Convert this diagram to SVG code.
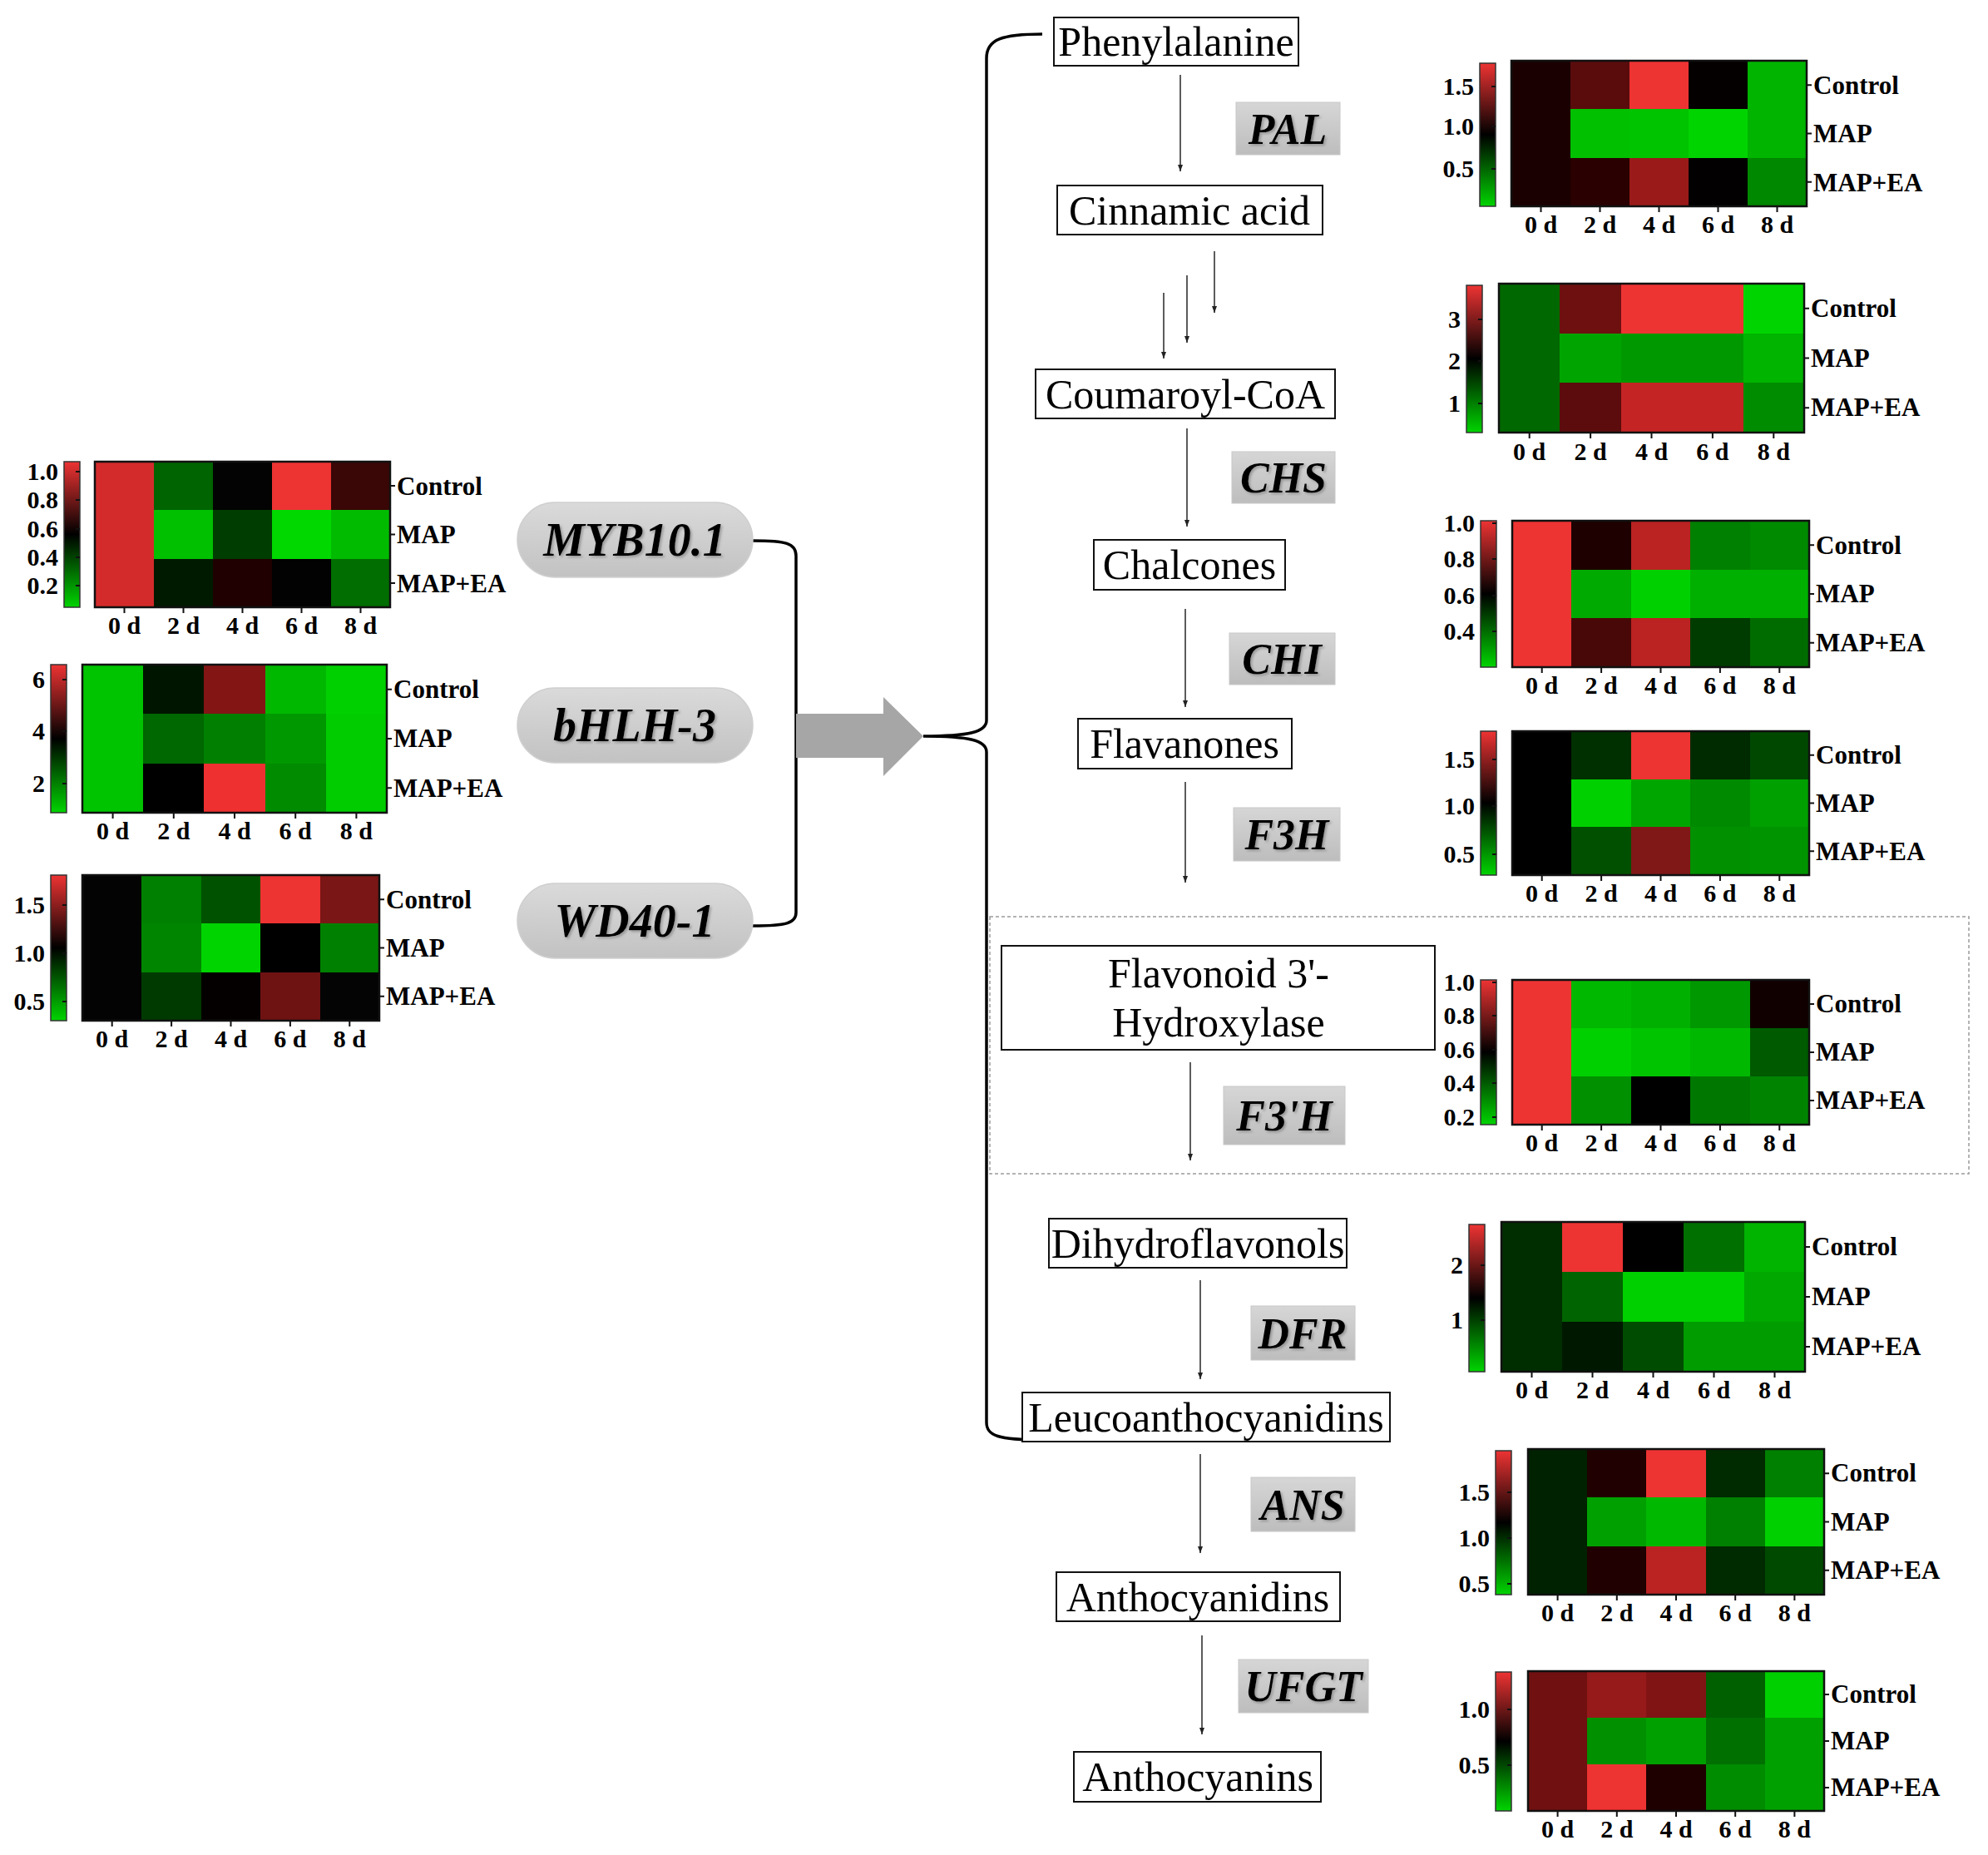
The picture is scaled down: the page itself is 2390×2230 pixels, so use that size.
<svg xmlns="http://www.w3.org/2000/svg" width="2390" height="2230" viewBox="0 0 2390 2230">
<defs>
<linearGradient id="cbg" x1="0" y1="0" x2="0" y2="1">
<stop offset="0" stop-color="#ee3333"/><stop offset="0.5" stop-color="#000000"/><stop offset="1" stop-color="#00d400"/>
</linearGradient>
<linearGradient id="pillg" x1="0" y1="0" x2="0" y2="1">
<stop offset="0" stop-color="#dadada"/><stop offset="1" stop-color="#c2c2c2"/>
</linearGradient>
<linearGradient id="enzg" x1="0" y1="0" x2="0" y2="1">
<stop offset="0" stop-color="#d6d6d6"/><stop offset="1" stop-color="#bdbdbd"/>
</linearGradient>
<filter id="sh" x="-10%" y="-20%" width="130%" height="150%">
<feDropShadow dx="2" dy="2" stdDeviation="1.5" flood-color="#777" flood-opacity="0.6"/>
</filter>
<marker id="ah" markerWidth="10" markerHeight="10" refX="8" refY="5" orient="auto" markerUnits="userSpaceOnUse">
<path d="M0,2 L8,5 L0,8 Z" fill="#222"/>
</marker>
</defs>
<style>
.lab{font-family:"Liberation Serif","Times New Roman",serif;font-weight:bold;font-size:30px;fill:#000}
.tl{text-anchor:end}
.cl{text-anchor:middle}
.rl{font-size:31px}
.cmp{font-family:"Liberation Serif","Times New Roman",serif;font-size:50px;text-anchor:middle;fill:#000}
.enz{font-family:"Liberation Serif","Times New Roman",serif;font-weight:bold;font-style:italic;font-size:52px;text-anchor:middle;fill:#000}
.gene{font-family:"Liberation Serif","Times New Roman",serif;font-weight:bold;font-style:italic;font-size:56px;text-anchor:middle;fill:#000}
.box{fill:#fff;stroke:#111;stroke-width:2}
.ebox{fill:url(#enzg);stroke:#c8c8c8;stroke-width:1}
.pill{fill:url(#pillg);stroke:#cfcfcf;stroke-width:1.5}
.cb{fill:url(#cbg);stroke:#333;stroke-width:1.5}
.fr{fill:none;stroke:#111;stroke-width:2.5}
.tk{fill:none;stroke:#111;stroke-width:2}
.br{fill:none;stroke:#000;stroke-width:3.5}
.pa{fill:none;stroke:#333;stroke-width:1.6;marker-end:url(#ah)}
</style>

<!-- ===== Left heatmaps ===== -->
<g id="hm-myb10">
<rect class="cb" x="77" y="555" width="19" height="175"/>
<g transform="translate(114,555) scale(71,58.333)" shape-rendering="crispEdges">
<rect x="0" y="0" width="1.02" height="3" fill="#d32b2b"/>
<rect x="1" y="0" width="1.02" height="1.02" fill="#006400"/><rect x="2" y="0" width="1.02" height="1.02" fill="#030303"/><rect x="3" y="0" width="1.02" height="1.02" fill="#ee3333"/><rect x="4" y="0" width="1" height="1.02" fill="#3a0606"/>
<rect x="1" y="1" width="1.02" height="1.02" fill="#00c000"/><rect x="2" y="1" width="1.02" height="1.02" fill="#003d00"/><rect x="3" y="1" width="1.02" height="1.02" fill="#00d800"/><rect x="4" y="1" width="1" height="1.02" fill="#00bb00"/>
<rect x="1" y="2" width="1.02" height="1" fill="#001a00"/><rect x="2" y="2" width="1.02" height="1" fill="#200000"/><rect x="3" y="2" width="1.02" height="1" fill="#020202"/><rect x="4" y="2" width="1" height="1" fill="#006e00"/>
</g>
<rect class="fr" x="114" y="555" width="355" height="175"/>
<path class="tk" d="M149.5,730v7M220.5,730v7M291.5,730v7M362.5,730v7M433.5,730v7M469,584h6M469,642.5h6M469,701h6M91,567h5M91,601h5M91,636h5M91,670h5M91,704h5"/>
<text class="lab tl" x="70" y="577">1.0</text><text class="lab tl" x="70" y="611">0.8</text><text class="lab tl" x="70" y="646">0.6</text><text class="lab tl" x="70" y="680">0.4</text><text class="lab tl" x="70" y="714">0.2</text>
<text class="lab rl" x="477" y="595">Control</text><text class="lab rl" x="477" y="653">MAP</text><text class="lab rl" x="477" y="712">MAP+EA</text>
<text class="lab cl" x="149.5" y="762">0 d</text><text class="lab cl" x="220.5" y="762">2 d</text><text class="lab cl" x="291.5" y="762">4 d</text><text class="lab cl" x="362.5" y="762">6 d</text><text class="lab cl" x="433.5" y="762">8 d</text>
</g>

<g id="hm-bhlh3">
<rect class="cb" x="61" y="799" width="19" height="178"/>
<g transform="translate(99,799) scale(73.2,59.333)" shape-rendering="crispEdges">
<rect x="0" y="0" width="1.02" height="3" fill="#00c400"/>
<rect x="1" y="0" width="1.02" height="1.02" fill="#001500"/><rect x="2" y="0" width="1.02" height="1.02" fill="#841515"/><rect x="3" y="0" width="1.02" height="1.02" fill="#00b800"/><rect x="4" y="0" width="1" height="1.02" fill="#00d000"/>
<rect x="1" y="1" width="1.02" height="1.02" fill="#006800"/><rect x="2" y="1" width="1.02" height="1.02" fill="#007f00"/><rect x="3" y="1" width="1.02" height="1.02" fill="#009800"/><rect x="4" y="1" width="1" height="1.02" fill="#00cc00"/>
<rect x="1" y="2" width="1.02" height="1" fill="#000000"/><rect x="2" y="2" width="1.02" height="1" fill="#ee3030"/><rect x="3" y="2" width="1.02" height="1" fill="#008b00"/><rect x="4" y="2" width="1" height="1" fill="#00cc00"/>
</g>
<rect class="fr" x="99" y="799" width="366" height="178"/>
<path class="tk" d="M135.6,977v7M208.8,977v7M282,977v7M355.2,977v7M428.4,977v7M465,828.7h6M465,888h6M465,947.3h6M75,817h5M75,879h5M75,942h5"/>
<text class="lab tl" x="54" y="827">6</text><text class="lab tl" x="54" y="889">4</text><text class="lab tl" x="54" y="952">2</text>
<text class="lab rl" x="473" y="839">Control</text><text class="lab rl" x="473" y="898">MAP</text><text class="lab rl" x="473" y="958">MAP+EA</text>
<text class="lab cl" x="135.6" y="1009">0 d</text><text class="lab cl" x="208.8" y="1009">2 d</text><text class="lab cl" x="282" y="1009">4 d</text><text class="lab cl" x="355.2" y="1009">6 d</text><text class="lab cl" x="428.4" y="1009">8 d</text>
</g>

<g id="hm-wd40">
<rect class="cb" x="61" y="1052" width="19" height="175"/>
<g transform="translate(99,1052) scale(71.4,58.333)" shape-rendering="crispEdges">
<rect x="0" y="0" width="1.02" height="3" fill="#030303"/>
<rect x="1" y="0" width="1.02" height="1.02" fill="#008000"/><rect x="2" y="0" width="1.02" height="1.02" fill="#005200"/><rect x="3" y="0" width="1.02" height="1.02" fill="#ee3333"/><rect x="4" y="0" width="1" height="1.02" fill="#7a1616"/>
<rect x="1" y="1" width="1.02" height="1.02" fill="#008500"/><rect x="2" y="1" width="1.02" height="1.02" fill="#00d400"/><rect x="3" y="1" width="1.02" height="1.02" fill="#000000"/><rect x="4" y="1" width="1" height="1.02" fill="#008000"/>
<rect x="1" y="2" width="1.02" height="1" fill="#003a00"/><rect x="2" y="2" width="1.02" height="1" fill="#050000"/><rect x="3" y="2" width="1.02" height="1" fill="#6e1212"/><rect x="4" y="2" width="1" height="1" fill="#040404"/>
</g>
<rect class="fr" x="99" y="1052" width="357" height="175"/>
<path class="tk" d="M134.7,1227v7M206.1,1227v7M277.5,1227v7M348.9,1227v7M420.3,1227v7M456,1081.2h6M456,1139.5h6M456,1197.8h6M75,1088h5M75,1146h5M75,1204h5"/>
<text class="lab tl" x="54" y="1098">1.5</text><text class="lab tl" x="54" y="1156">1.0</text><text class="lab tl" x="54" y="1214">0.5</text>
<text class="lab rl" x="464" y="1092">Control</text><text class="lab rl" x="464" y="1150">MAP</text><text class="lab rl" x="464" y="1208">MAP+EA</text>
<text class="lab cl" x="134.7" y="1259">0 d</text><text class="lab cl" x="206.1" y="1259">2 d</text><text class="lab cl" x="277.5" y="1259">4 d</text><text class="lab cl" x="348.9" y="1259">6 d</text><text class="lab cl" x="420.3" y="1259">8 d</text>
</g>

<!-- ===== Connectors ===== -->
<g id="connectors">
<path class="br" d="M905,650 C945,650 957,653 957,668 L957,1097 C957,1110 945,1113 905,1113"/>
<polygon points="957,858 1062,858 1062,838 1110,885 1062,933 1062,911 957,911" fill="#a6a6a6"/>
<path class="br" d="M1253,41 C1205,41 1186,47 1186,70 L1186,866 C1186,880 1165,885 1110,885 C1165,885 1186,890 1186,904 L1186,1710 C1186,1726 1200,1731 1253,1731"/>
<path class="pa" d="M1419,90V206"/>
<path class="pa" d="M1460,302V376"/>
<path class="pa" d="M1427,331V412"/>
<path class="pa" d="M1399,352V431"/>
<path class="pa" d="M1427,515V633"/>
<path class="pa" d="M1425,732V850"/>
<path class="pa" d="M1425,940V1061"/>
<path class="pa" d="M1431,1277V1395"/>
<path class="pa" d="M1443,1539V1658"/>
<path class="pa" d="M1443,1748V1867"/>
<path class="pa" d="M1445,1966V2085"/>
<rect x="1190" y="1102" width="1177" height="309" fill="none" stroke="#9a9a9a" stroke-width="1.5" stroke-dasharray="4 3"/>
</g>

<!-- ===== Transcription factor pills ===== -->
<g id="tf-myb"><rect class="pill" x="622" y="604" width="283" height="90" rx="45"/><text class="gene" x="763" y="668" filter="url(#sh)">MYB10.1</text></g>
<g id="tf-bhlh"><rect class="pill" x="622" y="827" width="283" height="90" rx="45"/><text class="gene" x="763" y="891" filter="url(#sh)">bHLH-3</text></g>
<g id="tf-wd40"><rect class="pill" x="622" y="1062" width="283" height="90" rx="45"/><text class="gene" x="763" y="1126" filter="url(#sh)">WD40-1</text></g>

<!-- ===== Pathway compounds ===== -->
<g id="c-phe"><rect class="box" x="1267" y="21" width="294" height="58"/><text class="cmp" x="1414" y="67">Phenylalanine</text></g>
<g id="c-cin"><rect class="box" x="1271" y="223" width="319" height="59"/><text class="cmp" x="1430" y="270">Cinnamic acid</text></g>
<g id="c-cou"><rect class="box" x="1245" y="444" width="360" height="59"/><text class="cmp" x="1425" y="491">Coumaroyl-CoA</text></g>
<g id="c-cha"><rect class="box" x="1315" y="649" width="230" height="60"/><text class="cmp" x="1430" y="696">Chalcones</text></g>
<g id="c-fla"><rect class="box" x="1296" y="864" width="257" height="60"/><text class="cmp" x="1424" y="911">Flavanones</text></g>
<g id="c-f3h"><rect class="box" x="1204" y="1137" width="521" height="125"/><text class="cmp" x="1465" y="1187">Flavonoid 3'-</text><text class="cmp" x="1465" y="1246">Hydroxylase</text></g>
<g id="c-dih"><rect class="box" x="1261" y="1465" width="358" height="59"/><text class="cmp" x="1440" y="1512">Dihydroflavonols</text></g>
<g id="c-leu"><rect class="box" x="1229" y="1674" width="442" height="59"/><text class="cmp" x="1450" y="1721">Leucoanthocyanidins</text></g>
<g id="c-acd"><rect class="box" x="1270" y="1890" width="341" height="59"/><text class="cmp" x="1440" y="1937">Anthocyanidins</text></g>
<g id="c-acn"><rect class="box" x="1291" y="2106" width="297" height="60"/><text class="cmp" x="1440" y="2153">Anthocyanins</text></g>

<!-- ===== Enzymes ===== -->
<g id="e-pal"><rect class="ebox" x="1486" y="123" width="125" height="63"/><text class="enz" x="1548" y="173" filter="url(#sh)">PAL</text></g>
<g id="e-chs"><rect class="ebox" x="1481" y="543" width="124" height="62"/><text class="enz" x="1543" y="592" filter="url(#sh)">CHS</text></g>
<g id="e-chi"><rect class="ebox" x="1478" y="761" width="127" height="62"/><text class="enz" x="1541" y="810" filter="url(#sh)">CHI</text></g>
<g id="e-f3h"><rect class="ebox" x="1483" y="971" width="128" height="64"/><text class="enz" x="1547" y="1021" filter="url(#sh)">F3H</text></g>
<g id="e-f3ph"><rect class="ebox" x="1471" y="1306" width="146" height="70"/><text class="enz" x="1544" y="1359" filter="url(#sh)">F3'H</text></g>
<g id="e-dfr"><rect class="ebox" x="1504" y="1570" width="125" height="65"/><text class="enz" x="1566" y="1621" filter="url(#sh)">DFR</text></g>
<g id="e-ans"><rect class="ebox" x="1504" y="1776" width="125" height="65"/><text class="enz" x="1566" y="1827" filter="url(#sh)">ANS</text></g>
<g id="e-ufgt"><rect class="ebox" x="1489" y="1995" width="156" height="64"/><text class="enz" x="1567" y="2045" filter="url(#sh)">UFGT</text></g>

<!-- ===== Right heatmaps ===== -->
<g id="hm-pal">
<rect class="cb" x="1779" y="76" width="19" height="172"/>
<g transform="translate(1817,73) scale(71,58.333)" shape-rendering="crispEdges">
<rect x="0" y="0" width="1.02" height="3" fill="#1a0000"/>
<rect x="1" y="0" width="1.02" height="1.02" fill="#5a0c0c"/><rect x="2" y="0" width="1.02" height="1.02" fill="#ee3333"/><rect x="3" y="0" width="1.02" height="1.02" fill="#050000"/><rect x="4" y="0" width="1" height="1.02" fill="#00b400"/>
<rect x="1" y="1" width="1.02" height="1.02" fill="#00c000"/><rect x="2" y="1" width="1.02" height="1.02" fill="#00c400"/><rect x="3" y="1" width="1.02" height="1.02" fill="#00d400"/><rect x="4" y="1" width="1" height="1.02" fill="#00b400"/>
<rect x="1" y="2" width="1.02" height="1" fill="#2a0000"/><rect x="2" y="2" width="1.02" height="1" fill="#9a1a1a"/><rect x="3" y="2" width="1.02" height="1" fill="#020000"/><rect x="4" y="2" width="1" height="1" fill="#008800"/>
</g>
<rect class="fr" x="1817" y="73" width="355" height="175"/>
<path class="tk" d="M1852.5,248v7M1923.5,248v7M1994.5,248v7M2065.5,248v7M2136.5,248v7M2172,102.2h6M2172,160.5h6M2172,218.8h6M1793,104h5M1793,152h5M1793,203h5"/>
<text class="lab tl" x="1772" y="114">1.5</text><text class="lab tl" x="1772" y="162">1.0</text><text class="lab tl" x="1772" y="213">0.5</text>
<text class="lab rl" x="2180" y="113">Control</text><text class="lab rl" x="2180" y="171">MAP</text><text class="lab rl" x="2180" y="230">MAP+EA</text>
<text class="lab cl" x="1852.5" y="280">0 d</text><text class="lab cl" x="1923.5" y="280">2 d</text><text class="lab cl" x="1994.5" y="280">4 d</text><text class="lab cl" x="2065.5" y="280">6 d</text><text class="lab cl" x="2136.5" y="280">8 d</text>
</g>

<g id="hm-chs">
<rect class="cb" x="1763" y="343" width="19" height="177"/>
<g transform="translate(1802,341) scale(73.4,59.667)" shape-rendering="crispEdges">
<rect x="0" y="0" width="1.02" height="3" fill="#006800"/>
<rect x="1" y="0" width="1.02" height="1.02" fill="#6e1010"/><rect x="2" y="0" width="2.02" height="1.02" fill="#ee3333"/><rect x="4" y="0" width="1" height="1.02" fill="#00d400"/>
<rect x="1" y="1" width="1.02" height="1.02" fill="#00a400"/><rect x="2" y="1" width="2.02" height="1.02" fill="#009800"/><rect x="4" y="1" width="1" height="1.02" fill="#00b400"/>
<rect x="1" y="2" width="1.02" height="1" fill="#5c0c0c"/><rect x="2" y="2" width="2.02" height="1" fill="#c42424"/><rect x="4" y="2" width="1" height="1" fill="#008c00"/>
</g>
<rect class="fr" x="1802" y="341" width="367" height="179"/>
<path class="tk" d="M1838.7,520v7M1912.1,520v7M1985.5,520v7M2058.9,520v7M2132.3,520v7M2169,370.8h6M2169,430.5h6M2169,490.2h6M1777,384h5M1777,434h5M1777,485h5"/>
<text class="lab tl" x="1756" y="394">3</text><text class="lab tl" x="1756" y="444">2</text><text class="lab tl" x="1756" y="495">1</text>
<text class="lab rl" x="2177" y="381">Control</text><text class="lab rl" x="2177" y="441">MAP</text><text class="lab rl" x="2177" y="500">MAP+EA</text>
<text class="lab cl" x="1838.7" y="553">0 d</text><text class="lab cl" x="1912.1" y="553">2 d</text><text class="lab cl" x="1985.5" y="553">4 d</text><text class="lab cl" x="2058.9" y="553">6 d</text><text class="lab cl" x="2132.3" y="553">8 d</text>
</g>

<g id="hm-chi">
<rect class="cb" x="1780" y="626" width="19" height="176"/>
<g transform="translate(1818,626) scale(71.4,58.667)" shape-rendering="crispEdges">
<rect x="0" y="0" width="1.02" height="3" fill="#ee3333"/>
<rect x="1" y="0" width="1.02" height="1.02" fill="#1e0000"/><rect x="2" y="0" width="1.02" height="1.02" fill="#bb2222"/><rect x="3" y="0" width="1.02" height="1.02" fill="#008000"/><rect x="4" y="0" width="1" height="1.02" fill="#008a00"/>
<rect x="1" y="1" width="1.02" height="1.02" fill="#00aa00"/><rect x="2" y="1" width="1.02" height="1.02" fill="#00d000"/><rect x="3" y="1" width="1.02" height="1.02" fill="#00b000"/><rect x="4" y="1" width="1" height="1.02" fill="#00b000"/>
<rect x="1" y="2" width="1.02" height="1" fill="#480808"/><rect x="2" y="2" width="1.02" height="1" fill="#bb2222"/><rect x="3" y="2" width="1.02" height="1" fill="#003c00"/><rect x="4" y="2" width="1" height="1" fill="#006c00"/>
</g>
<rect class="fr" x="1818" y="626" width="357" height="176"/>
<path class="tk" d="M1853.7,802v7M1925.1,802v7M1996.5,802v7M2067.9,802v7M2139.3,802v7M2175,655.3h6M2175,714h6M2175,772.7h6M1794,629h5M1794,672h5M1794,716h5M1794,759h5"/>
<text class="lab tl" x="1773" y="639">1.0</text><text class="lab tl" x="1773" y="682">0.8</text><text class="lab tl" x="1773" y="726">0.6</text><text class="lab tl" x="1773" y="769">0.4</text>
<text class="lab rl" x="2183" y="666">Control</text><text class="lab rl" x="2183" y="724">MAP</text><text class="lab rl" x="2183" y="783">MAP+EA</text>
<text class="lab cl" x="1853.7" y="834">0 d</text><text class="lab cl" x="1925.1" y="834">2 d</text><text class="lab cl" x="1996.5" y="834">4 d</text><text class="lab cl" x="2067.9" y="834">6 d</text><text class="lab cl" x="2139.3" y="834">8 d</text>
</g>

<g id="hm-f3h">
<rect class="cb" x="1780" y="879" width="19" height="173"/>
<g transform="translate(1818,879) scale(71.4,57.667)" shape-rendering="crispEdges">
<rect x="0" y="0" width="1.02" height="3" fill="#000000"/>
<rect x="1" y="0" width="1.02" height="1.02" fill="#003000"/><rect x="2" y="0" width="1.02" height="1.02" fill="#ee3333"/><rect x="3" y="0" width="1.02" height="1.02" fill="#002a00"/><rect x="4" y="0" width="1" height="1.02" fill="#004800"/>
<rect x="1" y="1" width="1.02" height="1.02" fill="#00d000"/><rect x="2" y="1" width="1.02" height="1.02" fill="#00a600"/><rect x="3" y="1" width="1.02" height="1.02" fill="#008a00"/><rect x="4" y="1" width="1" height="1.02" fill="#00a000"/>
<rect x="1" y="2" width="1.02" height="1" fill="#005000"/><rect x="2" y="2" width="1.02" height="1" fill="#801818"/><rect x="3" y="2" width="1.02" height="1" fill="#009000"/><rect x="4" y="2" width="1" height="1" fill="#009400"/>
</g>
<rect class="fr" x="1818" y="879" width="357" height="173"/>
<path class="tk" d="M1853.7,1052v7M1925.1,1052v7M1996.5,1052v7M2067.9,1052v7M2139.3,1052v7M2175,907.8h6M2175,965.5h6M2175,1023.2h6M1794,913h5M1794,969h5M1794,1027h5"/>
<text class="lab tl" x="1773" y="923">1.5</text><text class="lab tl" x="1773" y="979">1.0</text><text class="lab tl" x="1773" y="1037">0.5</text>
<text class="lab rl" x="2183" y="918">Control</text><text class="lab rl" x="2183" y="976">MAP</text><text class="lab rl" x="2183" y="1034">MAP+EA</text>
<text class="lab cl" x="1853.7" y="1084">0 d</text><text class="lab cl" x="1925.1" y="1084">2 d</text><text class="lab cl" x="1996.5" y="1084">4 d</text><text class="lab cl" x="2067.9" y="1084">6 d</text><text class="lab cl" x="2139.3" y="1084">8 d</text>
</g>

<g id="hm-f3ph">
<rect class="cb" x="1780" y="1178" width="19" height="174"/>
<g transform="translate(1818,1178) scale(71.4,58)" shape-rendering="crispEdges">
<rect x="0" y="0" width="1.02" height="3" fill="#ee3333"/>
<rect x="1" y="0" width="1.02" height="1.02" fill="#00b800"/><rect x="2" y="0" width="1.02" height="1.02" fill="#00b000"/><rect x="3" y="0" width="1.02" height="1.02" fill="#009800"/><rect x="4" y="0" width="1" height="1.02" fill="#100000"/>
<rect x="1" y="1" width="1.02" height="1.02" fill="#00d000"/><rect x="2" y="1" width="1.02" height="1.02" fill="#00c400"/><rect x="3" y="1" width="1.02" height="1.02" fill="#00b800"/><rect x="4" y="1" width="1" height="1.02" fill="#005a00"/>
<rect x="1" y="2" width="1.02" height="1" fill="#009000"/><rect x="2" y="2" width="1.02" height="1" fill="#000000"/><rect x="3" y="2" width="1.02" height="1" fill="#007800"/><rect x="4" y="2" width="1" height="1" fill="#008400"/>
</g>
<rect class="fr" x="1818" y="1178" width="357" height="174"/>
<path class="tk" d="M1853.7,1352v7M1925.1,1352v7M1996.5,1352v7M2067.9,1352v7M2139.3,1352v7M2175,1207h6M2175,1265h6M2175,1323h6M1794,1181h5M1794,1221h5M1794,1262h5M1794,1302h5M1794,1343h5"/>
<text class="lab tl" x="1773" y="1191">1.0</text><text class="lab tl" x="1773" y="1231">0.8</text><text class="lab tl" x="1773" y="1272">0.6</text><text class="lab tl" x="1773" y="1312">0.4</text><text class="lab tl" x="1773" y="1353">0.2</text>
<text class="lab rl" x="2183" y="1217">Control</text><text class="lab rl" x="2183" y="1275">MAP</text><text class="lab rl" x="2183" y="1333">MAP+EA</text>
<text class="lab cl" x="1853.7" y="1384">0 d</text><text class="lab cl" x="1925.1" y="1384">2 d</text><text class="lab cl" x="1996.5" y="1384">4 d</text><text class="lab cl" x="2067.9" y="1384">6 d</text><text class="lab cl" x="2139.3" y="1384">8 d</text>
</g>

<g id="hm-dfr">
<rect class="cb" x="1766" y="1472" width="19" height="177"/>
<g transform="translate(1805,1469) scale(73,60)" shape-rendering="crispEdges">
<rect x="0" y="0" width="1.02" height="3" fill="#002e00"/>
<rect x="1" y="0" width="1.02" height="1.02" fill="#ee3333"/><rect x="2" y="0" width="1.02" height="1.02" fill="#000000"/><rect x="3" y="0" width="1.02" height="1.02" fill="#007000"/><rect x="4" y="0" width="1" height="1.02" fill="#00b400"/>
<rect x="1" y="1" width="1.02" height="1.02" fill="#006400"/><rect x="2" y="1" width="1.02" height="1.02" fill="#00d000"/><rect x="3" y="1" width="1.02" height="1.02" fill="#00d000"/><rect x="4" y="1" width="1" height="1.02" fill="#00a800"/>
<rect x="1" y="2" width="1.02" height="1" fill="#001800"/><rect x="2" y="2" width="1.02" height="1" fill="#004c00"/><rect x="3" y="2" width="1.02" height="1" fill="#009c00"/><rect x="4" y="2" width="1" height="1" fill="#009c00"/>
</g>
<rect class="fr" x="1805" y="1469" width="365" height="180"/>
<path class="tk" d="M1841.5,1649v7M1914.5,1649v7M1987.5,1649v7M2060.5,1649v7M2133.5,1649v7M2170,1499h6M2170,1559h6M2170,1619h6M1780,1521h5M1780,1587h5"/>
<text class="lab tl" x="1759" y="1531">2</text><text class="lab tl" x="1759" y="1597">1</text>
<text class="lab rl" x="2178" y="1509">Control</text><text class="lab rl" x="2178" y="1569">MAP</text><text class="lab rl" x="2178" y="1629">MAP+EA</text>
<text class="lab cl" x="1841.5" y="1681">0 d</text><text class="lab cl" x="1914.5" y="1681">2 d</text><text class="lab cl" x="1987.5" y="1681">4 d</text><text class="lab cl" x="2060.5" y="1681">6 d</text><text class="lab cl" x="2133.5" y="1681">8 d</text>
</g>

<g id="hm-ans">
<rect class="cb" x="1798" y="1744" width="19" height="173"/>
<g transform="translate(1837,1742) scale(71.2,58.333)" shape-rendering="crispEdges">
<rect x="0" y="0" width="1.02" height="3" fill="#002200"/>
<rect x="1" y="0" width="1.02" height="1.02" fill="#200000"/><rect x="2" y="0" width="1.02" height="1.02" fill="#ee3333"/><rect x="3" y="0" width="1.02" height="1.02" fill="#002a00"/><rect x="4" y="0" width="1" height="1.02" fill="#008000"/>
<rect x="1" y="1" width="1.02" height="1.02" fill="#00a000"/><rect x="2" y="1" width="1.02" height="1.02" fill="#00b800"/><rect x="3" y="1" width="1.02" height="1.02" fill="#008000"/><rect x="4" y="1" width="1" height="1.02" fill="#00d000"/>
<rect x="1" y="2" width="1.02" height="1" fill="#200000"/><rect x="2" y="2" width="1.02" height="1" fill="#bb2222"/><rect x="3" y="2" width="1.02" height="1" fill="#002a00"/><rect x="4" y="2" width="1" height="1" fill="#004a00"/>
</g>
<rect class="fr" x="1837" y="1742" width="356" height="175"/>
<path class="tk" d="M1872.6,1917v7M1943.8,1917v7M2015,1917v7M2086.2,1917v7M2157.4,1917v7M2193,1771.2h6M2193,1829.5h6M2193,1887.8h6M1812,1794h5M1812,1849h5M1812,1904h5"/>
<text class="lab tl" x="1791" y="1804">1.5</text><text class="lab tl" x="1791" y="1859">1.0</text><text class="lab tl" x="1791" y="1914">0.5</text>
<text class="lab rl" x="2201" y="1781">Control</text><text class="lab rl" x="2201" y="1840">MAP</text><text class="lab rl" x="2201" y="1898">MAP+EA</text>
<text class="lab cl" x="1872.6" y="1949">0 d</text><text class="lab cl" x="1943.8" y="1949">2 d</text><text class="lab cl" x="2015" y="1949">4 d</text><text class="lab cl" x="2086.2" y="1949">6 d</text><text class="lab cl" x="2157.4" y="1949">8 d</text>
</g>

<g id="hm-ufgt">
<rect class="cb" x="1798" y="2010" width="19" height="167"/>
<g transform="translate(1837,2009) scale(71.2,56)" shape-rendering="crispEdges">
<rect x="0" y="0" width="1.02" height="3" fill="#701010"/>
<rect x="1" y="0" width="1.02" height="1.02" fill="#961a1a"/><rect x="2" y="0" width="1.02" height="1.02" fill="#801414"/><rect x="3" y="0" width="1.02" height="1.02" fill="#006000"/><rect x="4" y="0" width="1" height="1.02" fill="#00d000"/>
<rect x="1" y="1" width="1.02" height="1.02" fill="#009000"/><rect x="2" y="1" width="1.02" height="1.02" fill="#00a000"/><rect x="3" y="1" width="1.02" height="1.02" fill="#007000"/><rect x="4" y="1" width="1" height="1.02" fill="#00a000"/>
<rect x="1" y="2" width="1.02" height="1" fill="#ee3333"/><rect x="2" y="2" width="1.02" height="1" fill="#1e0000"/><rect x="3" y="2" width="1.02" height="1" fill="#008c00"/><rect x="4" y="2" width="1" height="1" fill="#00a000"/>
</g>
<rect class="fr" x="1837" y="2009" width="356" height="168"/>
<path class="tk" d="M1872.6,2177v7M1943.8,2177v7M2015,2177v7M2086.2,2177v7M2157.4,2177v7M2193,2037h6M2193,2093h6M2193,2149h6M1812,2055h5M1812,2122h5"/>
<text class="lab tl" x="1791" y="2065">1.0</text><text class="lab tl" x="1791" y="2132">0.5</text>
<text class="lab rl" x="2201" y="2047">Control</text><text class="lab rl" x="2201" y="2103">MAP</text><text class="lab rl" x="2201" y="2159">MAP+EA</text>
<text class="lab cl" x="1872.6" y="2209">0 d</text><text class="lab cl" x="1943.8" y="2209">2 d</text><text class="lab cl" x="2015" y="2209">4 d</text><text class="lab cl" x="2086.2" y="2209">6 d</text><text class="lab cl" x="2157.4" y="2209">8 d</text>
</g>
</svg>
